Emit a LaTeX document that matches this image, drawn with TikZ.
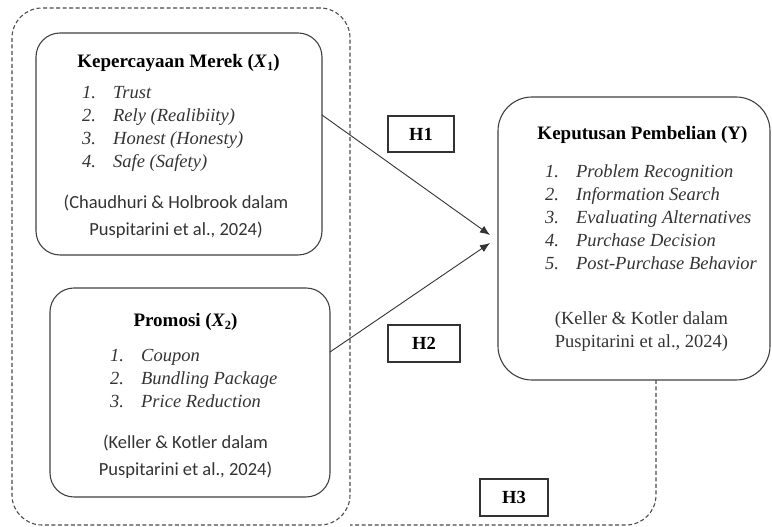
\documentclass[tikz,border=0pt]{standalone}
\usepackage{fontspec}
\setmainfont{Liberation Serif}[BoldFont={Liberation Serif Bold}, ItalicFont={Liberation Serif Italic}, BoldItalicFont={Liberation Serif Bold Italic}]
\newfontfamily\calibrifont{Carlito}
\usetikzlibrary{arrows.meta}
\tikzset{
	varbox/.style={draw=black!75, line width=1.1pt, rounded corners=24pt, inner sep=0pt, outer sep=0pt},
	hbox/.style={draw=black!80, line width=1.1pt, inner sep=0pt, outer sep=0pt, font=\fontsize{18.5}{20}\selectfont\bfseries},
	grouping/.style={draw=black!70, line width=1.1pt, dash pattern=on 4pt off 2.5pt, rounded corners=30pt, inner sep=0pt, outer sep=0pt},
	vartitle/.style={inner sep=0pt, font=\fontsize{19}{22}\selectfont\bfseries},
	varitems/.style={align=left, inner sep=0pt, anchor=west, text=black!80, font=\fontsize{18.5}{23}\selectfont\itshape},
	varsource/.style={align=center, inner sep=0pt, text=black!80, font=\fontsize{18.5}{27}\selectfont\calibrifont},
}
\newcommand{\itm}[1]{\makebox[31pt][l]{#1}}
\newcommand{\subidx}[1]{\raisebox{-0.35ex}{\fontsize{12.5}{12.5}\selectfont #1}}

\begin{document}
\begin{tikzpicture}[x=1pt, y=1pt]
		%%%%% START %%%%%
		\useasboundingbox (0, 0) rectangle (772, 527);
		
		% dashed group round X1 and X2
		\node[grouping, minimum width=338pt, minimum height=517pt] (group) at (181, 260.5) {};
		
		% Kepercayaan Merek
		\node[varbox, minimum width=286pt, minimum height=222pt] (merek) at (179, 383) {};
		\node[vartitle] (merektitle) at (178.5, 464) {Kepercayaan Merek (\textit{X}\subidx{1})};
		\node[varitems] (merekitems) at (82, 398.5) {\itm{1.}Trust\\ \itm{2.}Rely (Realibiity)\\ \itm{3.}Honest (Honesty)\\ \itm{4.}Safe (Safety)};
		\node[varsource] (mereksource) at (176, 310.5) {(Chaudhuri \& Holbrook dalam\\ Puspitarini et al., 2024)};
		
		% Promosi
		\node[varbox, minimum width=280pt, minimum height=209pt] (promosi) at (190, 134.5) {};
		\node[vartitle] (promosititle) at (185.5, 205) {Promosi (\textit{X}\subidx{2})};
		\node[varitems] (promosiitems) at (110, 148) {\itm{1.}Coupon\\ \itm{2.}Bundling Package\\ \itm{3.}Price Reduction};
		\node[varsource] (promosisource) at (185.5, 70.5) {(Keller \& Kotler dalam\\ Puspitarini et al., 2024)};
		
		% Keputusan Pembelian
		\node[varbox, rounded corners=34pt, minimum width=272pt, minimum height=283pt] (keputusan) at (634, 288.5) {};
		\node[vartitle] (keputusantitle) at (642.5, 392) {Keputusan Pembelian (Y)};
		\node[varitems] (keputusanitems) at (545, 310) {\itm{1.}Problem Recognition\\ \itm{2.}Information Search\\ \itm{3.}Evaluating Alternatives\\ \itm{4.}Purchase Decision\\ \itm{5.}Post-Purchase Behavior};
		\node[varsource, font=\fontsize{18.5}{23}\selectfont] (keputusansource) at (641.5, 195.5) {(Keller \& Kotler dalam\\ Puspitarini et al., 2024)};
		
		% hypotheses
		\node[hbox, minimum width=66pt, minimum height=36pt] (h1) at (421, 393) {H1};
		\node[hbox, minimum width=72pt, minimum height=37pt] (h2) at (424, 183.5) {H2};
		\node[hbox, minimum width=68pt, minimum height=37pt] (h3) at (514, 29.5) {H3};
		
		\coordinate (tip1) at (490, 292);
		\coordinate (tip2) at (490, 284);
		\draw[black!80, line width=0.9pt, -{Latex[length=10pt, width=8pt]}] ([yshift=29pt]merek.east) -- (tip1);
		\draw[black!80, line width=0.9pt, -{Latex[length=10pt, width=8pt]}] ([yshift=40.5pt]promosi.east) -- (tip2);
		
		\coordinate (h3corner) at (656, 2);
		\draw[grouping] (keputusan.south -| h3corner) -- (h3corner) -- (group.south east);
		%%%%% END %%%%%
\end{tikzpicture}
\end{document}
